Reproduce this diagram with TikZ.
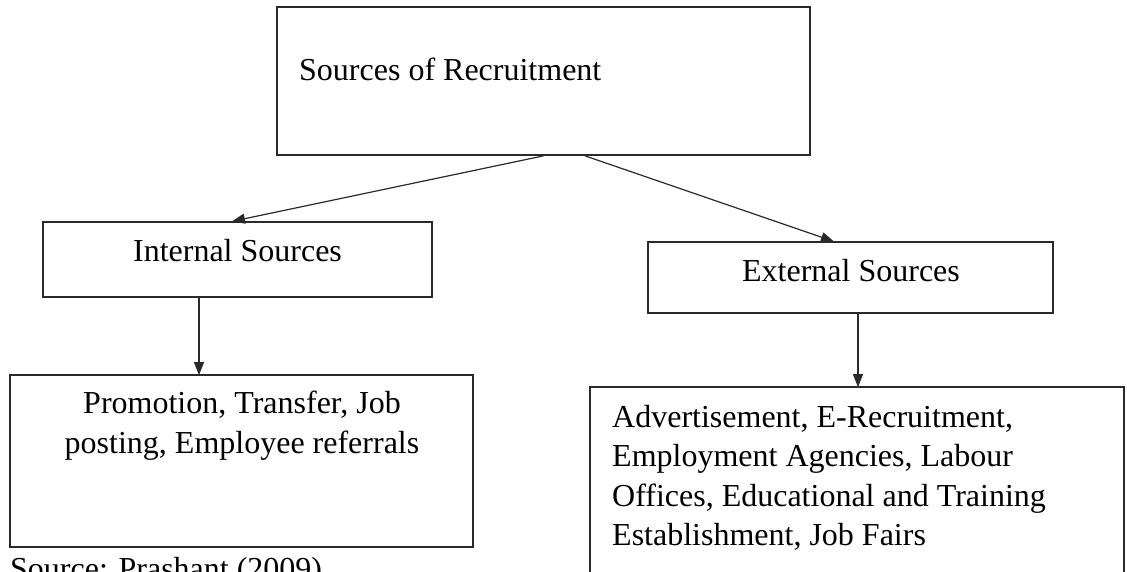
\documentclass[tikz,border=0pt]{standalone}
\usepackage{fontspec}
\setmainfont{Liberation Serif}
\usetikzlibrary{arrows.meta}
\definecolor{ink}{HTML}{2A2A2A}
\tikzset{
  box/.style={draw=ink, line width=1.7pt, rectangle, inner sep=0pt, fill=none},
  txt/.style={inner sep=0pt, text=black, font=\fontsize{32}{39.3}\selectfont},
  arr/.style={draw=ink, line width=1.2pt, -{Triangle[length=13pt,width=10pt]}, shorten >=-1pt}
}
\begin{document}
\begin{tikzpicture}[x=1pt,y=-1pt]
\clip (0,0) rectangle (1127,571);
% boxes
\node[box, minimum width=533pt, minimum height=148pt] (top) at (543.5,81) {};
\node[box, minimum width=389pt, minimum height=75pt] (int) at (237.5,259.5) {};
\node[box, minimum width=405pt, minimum height=71pt] (ext) at (850.5,277.5) {};
\node[box, minimum width=463pt, minimum height=172pt] (intlist) at (241.5,461) {};
\node[box, minimum width=534pt, minimum height=220pt] (extlist) at (857,497) {};
% texts
\node[txt, anchor=base west] (toptxt) at (299,80) {Sources of Recruitment};
\node[txt, anchor=base] (inttxt) at (237.5,261) {Internal Sources};
\node[txt, anchor=base] (exttxt) at (851,281) {External Sources};
\node[txt, anchor=north, align=center] (intlisttxt) at (242,391) {Promotion, Transfer, Job\\posting, Employee referrals};
\node[txt, anchor=north west, align=left] (extlisttxt) at (612,405) {Advertisement, E-Recruitment,\\Employment Agencies, Labour\\Offices, Educational and Training\\Establishment, Job Fairs};
\node[txt, anchor=base west] (src) at (10,579) {Source: Prashant (2009)};
% connectors
\draw[arr] (top.south) -- ([xshift=-4.5pt]int.north);
\draw[arr] ([xshift=41.5pt]top.south) -- ([xshift=-17.5pt]ext.north);
\draw[arr] ([xshift=-38.5pt]int.south) -- ([xshift=-42.5pt]intlist.north);
\draw[arr] ([xshift=7.5pt]ext.south) -- ([xshift=1pt]extlist.north);
\end{tikzpicture}
\end{document}
